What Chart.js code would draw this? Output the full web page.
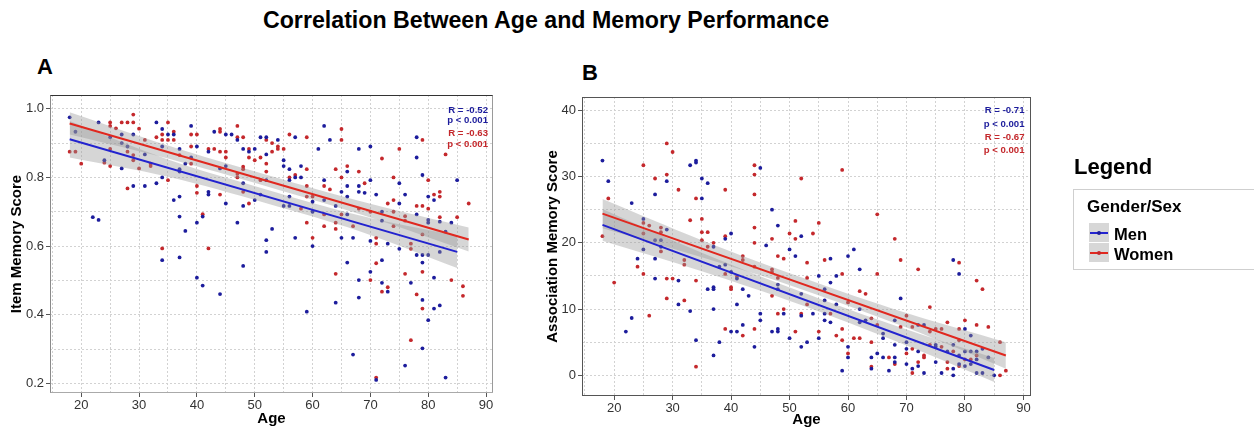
<!DOCTYPE html>
<html>
<head>
<meta charset="utf-8">
<title>Correlation Between Age and Memory Performance</title>
<script src="https://cdn.jsdelivr.net/npm/chart.js@4.4.1/dist/chart.umd.min.js"></script>
<style>
  html, body { margin: 0; padding: 0; background: #fff; }
  body { width: 1254px; height: 429px; position: relative; overflow: hidden;
         font-family: "Liberation Sans", Arial, Helvetica, sans-serif; color: #000; }
  .t { position: absolute; white-space: nowrap; font-weight: bold; }
  #title { left: 246px; width: 600px; top: 8.5px; text-align: center; font-size: 23.2px; line-height: 23.2px; }
  .panel-letter { font-size: 22px; line-height: 22px; }
  .stat { font-size: 9.6px; line-height: 9.6px; text-align: right; }
  .men { color: #1c1c9c; }
  .women { color: #c4282c; }
  canvas { position: absolute; }
  #legendTitle { left: 1074px; top: 156px; font-size: 22px; line-height: 22px; }
  #legendBox { position: absolute; left: 1073px; top: 189px; width: 200px; height: 81px;
               border: 1px solid #cfcfcf; box-sizing: border-box; }
  #legendHead { left: 1087px; top: 198px; font-size: 17px; line-height: 17px; }
  .key { position: absolute; left: 1089px; width: 20px; height: 19px; background: #d7d7d7; }
  .key .ln { position: absolute; left: 1px; right: 1px; top: 8.5px; height: 2px; }
  .key .dot { position: absolute; left: 8px; top: 7.5px; width: 4px; height: 4px; border-radius: 2px; }
  .keyLabel { font-size: 16.5px; line-height: 16.5px; left: 1114px; }
</style>
</head>
<body>
<div id="title" class="t">Correlation Between Age and Memory Performance</div>
<div class="t panel-letter" style="left:37px;top:56px;">A</div>
<div class="t panel-letter" style="left:582px;top:62px;">B</div>

<canvas id="chartA" width="500" height="379" style="left:0;top:50px;"></canvas>
<canvas id="chartB" width="520" height="379" style="left:520px;top:50px;"></canvas>

<div class="t stat men"   style="right:766px;top:104.7px;">R = -0.52</div>
<div class="t stat men"   style="right:766px;top:115.4px;">p &lt; 0.001</div>
<div class="t stat women" style="right:766px;top:128.1px;">R = -0.63</div>
<div class="t stat women" style="right:766px;top:139.1px;">p &lt; 0.001</div>

<div class="t stat men"   style="right:229.5px;top:105.4px;">R = -0.71</div>
<div class="t stat men"   style="right:229.5px;top:119.2px;">p &lt; 0.001</div>
<div class="t stat women" style="right:229.5px;top:132.4px;">R = -0.67</div>
<div class="t stat women" style="right:229.5px;top:145.4px;">p &lt; 0.001</div>

<div id="legendTitle" class="t">Legend</div>
<div id="legendBox"></div>
<div id="legendHead" class="t">Gender/Sex</div>
<div class="key" style="top:223px;"><div class="ln" style="background:#2323cf"></div><div class="dot" style="background:#1c1c9c"></div></div>
<div class="key" style="top:243px;"><div class="ln" style="background:#e0281f"></div><div class="dot" style="background:#c4282c"></div></div>
<div class="t keyLabel" style="top:226px;">Men</div>
<div class="t keyLabel" style="top:246px;">Women</div>

<script>
// ---- Panel A: item memory score by age ----
const ageItemMen = [18,19,22,23,23,25,24,27,27,27,28,29,29,31,31,33,33,34,34,34,34,35,36,36,37,37,37,37,37,37,38,38,39,39,40,40,40,41,41,42,42,42,43,44,44,45,45,45,46,47,47,48,48,48,48,49,50,50,51,51,52,52,52,52,52,53,54,55,55,55,56,56,56,56,57,57,57,58,58,59,60,60,60,61,62,62,62,63,64,64,65,65,66,66,66,66,66,67,67,68,68,68,68,68,69,70,70,70,70,71,71,72,72,72,72,73,73,75,75,75,76,76,77,78,78,78,78,79,79,79,79,79,80,80,80,80,80,81,81,81,82,82,82,83,83,84,85];
const itemMen = [0.975,0.933,0.684,0.676,0.96,0.917,0.85,0.925,0.9,0.826,0.89,0.925,0.775,0.867,0.775,0.96,0.783,0.941,0.89,0.8,0.559,0.925,0.925,0.734,0.883,0.824,0.817,0.744,0.686,0.567,0.84,0.644,0.95,0.858,0.89,0.668,0.508,0.686,0.485,0.875,0.758,0.75,0.933,0.826,0.46,0.925,0.833,0.724,0.925,0.909,0.668,0.883,0.783,0.717,0.542,0.875,0.883,0.734,0.917,0.75,0.917,0.867,0.792,0.617,0.583,0.65,0.909,0.85,0.833,0.717,0.824,0.792,0.744,0.717,0.917,0.8,0.624,0.833,0.8,0.409,0.729,0.7,0.6,0.883,0.95,0.792,0.734,0.909,0.717,0.435,0.758,0.624,0.817,0.775,0.744,0.692,0.552,0.624,0.284,0.883,0.775,0.758,0.501,0.45,0.755,0.89,0.792,0.615,0.525,0.75,0.21,0.7,0.674,0.559,0.493,0.607,0.467,0.783,0.724,0.592,0.75,0.252,0.493,0.917,0.858,0.692,0.574,0.807,0.574,0.552,0.443,0.302,0.744,0.676,0.668,0.574,0.384,0.734,0.508,0.418,0.671,0.583,0.427,0.642,0.217,0.668,0.792];

const ageItemWomen = [18,19,20,25,25,25,25,26,24,27,28,28,28,29,29,29,29,30,30,31,32,32,33,34,34,34,35,35,35,36,36,37,39,39,39,40,40,40,41,42,42,43,44,44,44,44,45,45,47,47,47,47,48,48,48,48,49,49,49,50,51,51,52,52,52,53,53,54,54,55,56,56,57,58,59,59,59,59,59,60,60,62,62,62,63,64,64,64,64,65,65,65,65,66,67,68,68,69,70,70,71,71,71,71,72,72,73,73,74,74,74,74,75,76,76,76,77,77,77,78,78,79,79,79,79,79,80,80,81,82,82,82,83,84,85,86,86,87];
const itemWomen = [0.875,0.875,0.84,0.96,0.95,0.883,0.833,0.943,0.843,0.96,0.96,0.768,0.875,0.983,0.96,0.865,0.85,0.942,0.826,0.909,0.84,0.833,0.917,0.925,0.909,0.593,0.96,0.909,0.792,0.933,0.909,0.865,0.925,0.89,0.84,0.925,0.775,0.755,0.693,0.883,0.593,0.883,0.941,0.933,0.875,0.75,0.875,0.858,0.95,0.917,0.81,0.8,0.917,0.831,0.824,0.758,0.883,0.858,0.724,0.85,0.858,0.792,0.909,0.84,0.817,0.9,0.875,0.89,0.883,0.883,0.925,0.8,0.807,0.709,0.917,0.824,0.775,0.744,0.668,0.744,0.624,0.775,0.692,0.658,0.765,0.824,0.668,0.65,0.519,0.941,0.909,0.8,0.692,0.833,0.658,0.817,0.709,0.783,0.7,0.501,0.624,0.607,0.55,0.217,0.855,0.467,0.724,0.48,0.8,0.734,0.7,0.658,0.883,0.687,0.674,0.519,0.607,0.592,0.326,0.717,0.459,0.909,0.717,0.634,0.525,0.418,0.792,0.709,0.75,0.758,0.744,0.684,0.867,0.501,0.684,0.483,0.455,0.724];

// fitted lines and confidence bands (panel A)
const fitItemMenX = [18, 85],   fitItemMenY = [0.911, 0.583];
const fitItemWomenX = [18, 87], fitItemWomenY = [0.957, 0.619];
const bandItemMenX = [18, 35, 52, 68, 85];
const bandItemMenLo = [0.858, 0.802, 0.725, 0.644, 0.536];
const bandItemMenHi = [0.964, 0.852, 0.765, 0.690, 0.630];
const bandItemWomenX = [18, 35, 52, 70, 87];
const bandItemWomenLo = [0.925, 0.855, 0.774, 0.683, 0.584];
const bandItemWomenHi = [0.990, 0.893, 0.808, 0.723, 0.654];

// ---- Panel B: association memory score by age ----
const ageAssocMen = [18,19,22,23,23,24,25,25,27,27,27,27,28,28,29,29,31,31,33,33,34,34,34,35,35,36,36,37,37,37,37,37,38,38,39,39,40,40,40,41,41,41,42,42,43,44,45,45,45,46,47,47,48,48,48,48,48,49,50,50,51,52,52,52,52,53,54,55,55,56,56,56,56,57,57,57,58,58,59,60,60,60,61,62,62,62,63,64,64,65,66,66,66,67,68,68,68,68,69,70,70,70,71,72,72,72,73,73,75,75,75,76,77,78,78,78,78,79,79,79,80,80,80,81,81,81,82,82,82,83,83,84,85];
const assocMen = [32.4,29.3,6.6,26.0,8.65,17.6,23.6,19.0,27.3,20.4,17.6,14.6,20.4,19.4,29.3,22.0,14.3,10.7,31.7,9.7,32.4,32.1,5.3,29.7,26.7,29.0,13.0,19.4,13.3,13.0,10.0,3.0,16.4,5.0,20.6,16.7,21.4,15.6,6.6,14.6,10.7,6.6,13.0,7.6,12.0,4.3,31.3,9.3,8.3,19.6,25.0,6.6,22.6,13.7,13.0,7.0,6.6,9.3,19.0,5.6,18.0,21.0,12.3,9.0,4.3,5.0,9.3,15.0,5.6,13.0,11.3,9.3,8.3,17.6,14.0,8.0,15.0,10.7,0.7,18.0,4.3,2.7,19.0,16.0,10.0,8.0,8.3,2.7,1.0,3.3,6.3,5.6,2.7,0.7,8.3,4.6,2.7,2.0,11.6,5.0,4.0,1.7,1.0,7.6,3.6,1.4,7.6,0.35,4.6,4.3,2.0,0.35,3.6,17.4,4.6,1.0,0.0,15.3,3.0,1.7,7.0,3.6,1.4,6.0,3.6,1.7,3.6,2.4,0.35,4.0,0.35,2.7,0.0];

const ageAssocWomen = [18,19,20,24,25,25,25,25,26,26,27,28,28,28,29,29,29,29,30,30,31,32,32,32,33,34,34,34,35,35,35,36,36,37,39,39,39,39,40,40,41,42,42,42,44,44,44,44,44,44,44,47,47,47,47,48,48,48,49,49,50,51,51,51,52,52,53,53,53,54,55,55,56,57,58,59,59,59,59,60,60,61,62,62,63,64,64,64,65,65,65,67,68,68,69,69,70,70,71,71,71,72,72,73,73,74,74,74,75,76,76,77,77,77,78,79,79,79,79,80,80,81,82,82,82,83,84,86,86,87];
const assocWomen = [21.0,26.7,14.0,16.4,31.7,23.0,21.4,15.3,22.6,9.0,29.7,22.3,21.6,18.7,35.0,30.3,14.6,11.6,33.7,14.6,28.0,17.4,16.7,11.3,23.4,26.7,14.3,1.3,23.6,21.6,20.4,21.6,19.4,20.0,28.0,21.0,15.3,7.0,13.3,13.0,14.9,18.0,17.4,6.0,31.7,30.3,27.3,22.3,20.0,16.4,7.0,20.6,16.0,15.6,12.0,18.0,14.7,9.3,17.6,10.0,21.4,23.3,20.6,6.6,29.7,9.3,17.0,14.7,10.7,21.4,23.0,6.6,17.4,9.3,6.0,31.0,15.3,7.0,5.3,11.0,3.3,5.6,12.7,5.6,12.3,8.6,5.0,1.3,24.3,15.3,7.6,2.7,20.6,1.7,17.4,7.3,9.0,3.3,7.3,0.35,4.0,16.0,2.0,3.0,2.7,10.3,6.6,4.6,7.0,7.0,4.3,8.0,2.0,1.0,3.6,17.0,7.0,5.3,1.4,8.3,2.4,2.4,14.3,7.6,3.0,13.0,7.3,5.0,0.0,0.7];

// fitted lines and confidence bands (panel B)
const fitAssocMenX = [18, 85],   fitAssocMenY = [22.7, 0.8];
const fitAssocWomenX = [18, 87], fitAssocWomenY = [24.4, 3.0];
const bandAssocMenX = [18, 35, 52, 68, 85];
const bandAssocMenLo = [20.3, 15.7, 10.6, 5.2, -1.0];
const bandAssocMenHi = [25.1, 18.5, 12.6, 7.5, 2.6];
const bandAssocWomenX = [18, 35, 52, 70, 87];
const bandAssocWomenLo = [22.2, 17.8, 13.0, 7.2, 1.0];
const bandAssocWomenHi = [26.6, 20.4, 14.8, 9.4, 5.0];

// ---- styling ----
const MEN_PT = '#1c1c9c', WOMEN_PT = '#c4282c';
const MEN_LINE = '#2323cf', WOMEN_LINE = '#e0281f';
const BAND_FILL = 'rgba(153,153,153,0.4)';
const GRID = '#d2d2d2';

Chart.defaults.font.family = '"Liberation Sans", Arial, Helvetica, sans-serif';

const toXY = (xs, ys) => xs.map((x, i) => ({ x, y: ys[i] }));

function fitDataset(xs, ys, color) {
  return { data: toXY(xs, ys), showLine: true, borderColor: color, borderWidth: 2,
           pointRadius: 0, fill: false, order: 0 };
}
function bandDatasets(xs, lo, hi) {
  return [
    { data: toXY(xs, hi), showLine: true, borderColor: 'rgba(0,0,0,0)', pointRadius: 0,
      tension: 0.35, fill: '+1', backgroundColor: BAND_FILL, order: 1 },
    { data: toXY(xs, lo), showLine: true, borderColor: 'rgba(0,0,0,0)', pointRadius: 0,
      tension: 0.35, fill: false, order: 1 }
  ];
}
function pointDataset(xs, ys, color) {
  return { data: toXY(xs, ys), backgroundColor: color, pointRadius: 1.9,
           pointBorderWidth: 0, pointHoverRadius: 0, order: 2 };
}

// draws the full panel frame around the plotting area
const panelFrame = {
  id: 'panelFrame',
  afterDraw(chart, args, o) {
    const { ctx, chartArea: a } = chart;
    const L = a.left + 0.5, R = a.right - 0.5, T = a.top + 0.5, B = a.bottom - 0.5;
    const seg = (x1, y1, x2, y2, c) => {
      ctx.strokeStyle = c; ctx.beginPath(); ctx.moveTo(x1, y1); ctx.lineTo(x2, y2); ctx.stroke();
    };
    ctx.save();
    ctx.lineWidth = 1;
    seg(L - 0.5, T, R + 0.5, T, o.top);
    seg(R, T, R, B, o.right);
    seg(R + 0.5, B, L - 0.5, B, o.bottom);
    seg(L, B, L, T, o.left);
    ctx.restore();
  }
};

function makeChart(id, cfg) {
  const isMajorX = v => Math.abs(v % 10) < 1e-6;
  return new Chart(document.getElementById(id), {
    type: 'scatter',
    data: { datasets: cfg.datasets },
    plugins: [panelFrame],
    options: {
      responsive: false, animation: false, events: [],
      layout: { padding: cfg.padding },
      plugins: { legend: { display: false }, tooltip: { enabled: false }, panelFrame: cfg.frame },
      scales: {
        x: {
          type: 'linear', min: cfg.xMin, max: cfg.xMax,
          afterFit: s => { s.height = cfg.xHeight; },
          ticks: { stepSize: 5, includeBounds: false, autoSkip: false, maxRotation: 0,
                   color: '#333', font: { size: 13 }, padding: 1,
                   callback: v => isMajorX(v) ? String(v) : '' },
          grid: { color: GRID, lineWidth: 1, tickLength: 4, tickBorderDash: [],
                  tickColor: c => (c.tick && isMajorX(c.tick.value)) ? '#555' : 'rgba(0,0,0,0)' },
          border: { display: false, dash: [2, 2] },
          title: { display: true, text: 'Age', color: '#000',
                   font: { size: 15, weight: 'bold' }, padding: { top: 0, bottom: cfg.xTitlePad } }
        },
        y: {
          type: 'linear', min: cfg.yMin, max: cfg.yMax,
          afterFit: s => { s.width = cfg.yWidth; },
          ticks: { stepSize: cfg.yStep, includeBounds: false, autoSkip: false,
                   color: '#333', font: { size: 13 }, padding: 2,
                   callback: v => cfg.isMajorY(v) ? cfg.fmtY(v) : '' },
          grid: { color: GRID, lineWidth: 1, tickLength: 4, tickBorderDash: [],
                  tickColor: c => (c.tick && cfg.isMajorY(c.tick.value)) ? '#555' : 'rgba(0,0,0,0)' },
          border: { display: false, dash: [2, 2] },
          title: { display: true, text: cfg.yTitle, color: '#000',
                   font: { size: 15, weight: 'bold' }, padding: { top: cfg.yTitlePad, bottom: 0 } }
        }
      }
    }
  });
}

makeChart('chartA', {
  datasets: [
    fitDataset(fitItemMenX, fitItemMenY, MEN_LINE),
    fitDataset(fitItemWomenX, fitItemWomenY, WOMEN_LINE),
    ...bandDatasets(bandItemMenX, bandItemMenLo, bandItemMenHi),
    ...bandDatasets(bandItemWomenX, bandItemWomenLo, bandItemWomenHi),
    pointDataset(ageItemMen, itemMen, MEN_PT),
    pointDataset(ageItemWomen, itemWomen, WOMEN_PT)
  ],
  padding: { top: 45, right: 7, left: 0, bottom: 0 },
  xMin: 14.6, xMax: 91.2, xHeight: 36, xTitlePad: 1,
  yMin: 0.172, yMax: 1.04, yStep: 0.1, yWidth: 50, yTitlePad: 8,
  yTitle: 'Item Memory Score',
  isMajorY: v => Math.round(v * 10) % 2 === 0,
  fmtY: v => v.toFixed(1),
  frame: { top: '#333', right: '#9a9a9a', bottom: '#aaaaaa', left: '#8a8a8a' }
});

makeChart('chartB', {
  datasets: [
    fitDataset(fitAssocMenX, fitAssocMenY, MEN_LINE),
    fitDataset(fitAssocWomenX, fitAssocWomenY, WOMEN_LINE),
    ...bandDatasets(bandAssocMenX, bandAssocMenLo, bandAssocMenHi),
    ...bandDatasets(bandAssocWomenX, bandAssocWomenLo, bandAssocWomenHi),
    pointDataset(ageAssocMen, assocMen, MEN_PT),
    pointDataset(ageAssocWomen, assocWomen, WOMEN_PT)
  ],
  padding: { top: 47, right: 9, left: 0, bottom: 0 },
  xMin: 14.5, xMax: 91.3, xHeight: 33, xTitlePad: 0,
  yMin: -3.12, yMax: 42, yStep: 5, yWidth: 62, yTitlePad: 24,
  yTitle: 'Association Memory Score',
  isMajorY: v => Math.round(v) % 10 === 0,
  fmtY: v => String(Math.round(v)),
  frame: { top: '#555', right: '#555', bottom: '#555', left: '#555' }
});
</script>
</body>
</html>
